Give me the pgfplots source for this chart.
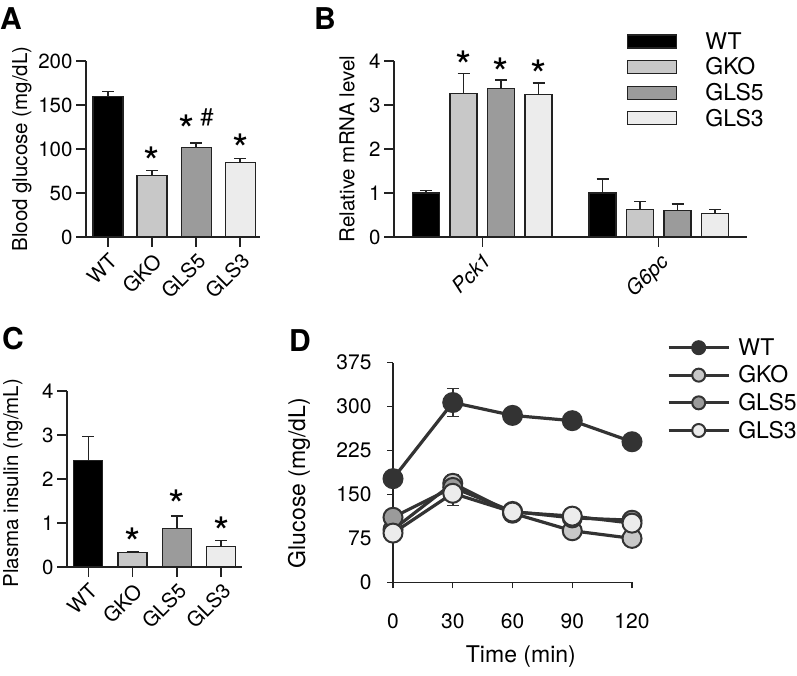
\documentclass[border=0pt]{standalone}
\usepackage{pgfplots}
\pgfplotsset{compat=1.18}
\usepackage{fontspec}
\setmainfont{TeX Gyre Heros}
\definecolor{axc}{HTML}{222222}
\definecolor{cgko}{HTML}{C8C8C8}
\definecolor{cgls5}{HTML}{9B9B9B}
\definecolor{cgls3}{HTML}{ECECEC}
\definecolor{dwt}{HTML}{333333}
\newcommand\tickf{\fontsize{20.5}{22}\selectfont}
\newcommand\labf{\fontsize{20.5}{22}\selectfont}
\newcommand\legf{\fontsize{23}{24}\selectfont}
\newcommand\starf{\fontsize{42}{42}\selectfont}
\newcommand\panelf{\fontsize{30}{32}\selectfont\bfseries}
\pgfplotsset{
  panel/.style={
    scale only axis,
    axis x line*=bottom, axis y line*=left,
    axis line style={line width=1.4pt, draw=axc},
    tick style={line width=1.4pt, draw=axc},
    tick align=outside,
    major tick length=10pt,
    /pgf/number format/assume math mode=true,
    tick label style={font=\tickf},
    label style={font=\labf},
    clip=false,
  },
  barerr/.style={error bars/y dir=plus, error bars/y explicit,
     error bars/error bar style={line width=1.4pt, draw=axc},
     error bars/error mark options={rotate=90, line width=1.4pt, draw=axc, mark size=6pt}},
  bar/.style={ybar, bar shift=0pt, draw=axc, line width=1.2pt},
  boxleg/.style={legend image code/.code={\draw[##1, line width=1.2pt] (0pt,-6.5pt) rectangle (49pt,6.5pt);}},
  dleg/.style={legend image code/.code={\draw[mark repeat=2,mark phase=2,##1, mark size=6.5pt] plot coordinates {(0pt,0pt) (30pt,0pt) (60pt,0pt)};}},
  derr/.style={error bars/y dir=both, error bars/y explicit,
     error bars/error bar style={line width=1.5pt, draw=dwt},
     error bars/error mark options={rotate=90, line width=1.5pt, draw=dwt, mark size=6pt}},
}
\begin{document}
\begin{tikzpicture}
\path[use as bounding box] (0pt,0pt) rectangle (797pt,675pt);
% ---------------- Panel A
\begin{axis}[panel, at={(86pt,438pt)}, anchor=south west, width=174pt, height=176pt,
  xmin=-0.5, xmax=3.45, ymin=0, ymax=200, ytick={0,50,...,200},
  xtick={0,1,2,3}, xticklabels={WT,GKO,GLS5,GLS3},
  xticklabel style={rotate=45, anchor=north east},
  ylabel={Blood glucose (mg/dL)},
  ylabel style={at={(axis description cs:-0.368,0.5)}, anchor=center},
]
\addplot[bar, bar width=30pt, fill=black, barerr] coordinates {(0,160) +- (0,5)};
\addplot[bar, bar width=30pt, fill=cgko, barerr] coordinates {(1,70) +- (0,5.5)};
\addplot[bar, bar width=30pt, fill=cgls5, barerr] coordinates {(2,102) +- (0,5)};
\addplot[bar, bar width=30pt, fill=cgls3, barerr] coordinates {(3,85) +- (0,4.5)};
\node[font=\starf] at (axis cs:1,85) {*};
\node[font=\starf] at (axis cs:1.78,121) {*};
\node[font=\fontsize{24}{24}\selectfont] at (axis cs:2.25,136) {\#};
\node[font=\starf] at (axis cs:3,100) {*};
\end{axis}
% ---------------- Panel B
\begin{axis}[panel, at={(394pt,438pt)}, anchor=south west, width=353pt, height=176pt,
  ybar=10.5pt, bar width=27pt,
  xmin=-0.5, xmax=1.5, ymin=0, ymax=4, ytick={0,1,2,3,4},
  xtick={0,1}, xticklabels={\textit{Pck1},\textit{G6pc}},
  xticklabel style={rotate=45, anchor=north east},
  ylabel={Relative mRNA level},
  ylabel style={at={(axis description cs:-0.133,0.5)}, anchor=center},
  legend style={at={(axis description cs:0.66,1.175)}, anchor=north west, draw=none, fill=none,
    font=\legf, row sep=3pt, column sep=26pt, inner sep=0pt, cells={anchor=west}},
]
\addplot[fill=black, draw=axc, line width=1.2pt, boxleg, barerr] coordinates {(0,1.0) +- (0,0.05) (1,1.0) +- (0,0.32)};
\addplot[fill=cgko, draw=axc, line width=1.2pt, boxleg, barerr] coordinates {(0,3.27) +- (0,0.45) (1,0.62) +- (0,0.19)};
\addplot[fill=cgls5, draw=axc, line width=1.2pt, boxleg, barerr] coordinates {(0,3.37) +- (0,0.2) (1,0.61) +- (0,0.14)};
\addplot[fill=cgls3, draw=axc, line width=1.2pt, boxleg, barerr] coordinates {(0,3.23) +- (0,0.27) (1,0.53) +- (0,0.1)};
\legend{WT,GKO,GLS5,GLS3}
\node[font=\starf] at (axis cs:-0.106,3.88) {*};
\node[font=\starf] at (axis cs:0.106,3.73) {*};
\node[font=\starf] at (axis cs:0.318,3.68) {*};
\end{axis}
% ---------------- Panel C
\begin{axis}[panel, at={(67pt,108pt)}, anchor=south west, width=175pt, height=176pt,
  xmin=-0.48, xmax=3.47, ymin=0, ymax=4, ytick={0,1,2,3,4},
  xtick={0,1,2,3}, xticklabels={WT,GKO,GLS5,GLS3},
  xticklabel style={rotate=45, anchor=north east},
  ylabel={Plasma insulin (ng/mL)},
  ylabel style={at={(axis description cs:-0.309,0.477)}, anchor=center},
]
\addplot[bar, bar width=29pt, fill=black, barerr] coordinates {(0,2.42) +- (0,0.54)};
\addplot[bar, bar width=29pt, fill=cgko, barerr] coordinates {(1,0.33) +- (0,0.02)};
\addplot[bar, bar width=29pt, fill=cgls5, barerr] coordinates {(2,0.88) +- (0,0.28)};
\addplot[bar, bar width=29pt, fill=cgls3, barerr] coordinates {(3,0.46) +- (0,0.14)};
\node[font=\starf] at (axis cs:1,0.55) {*};
\node[font=\starf] at (axis cs:2,1.4) {*};
\node[font=\starf] at (axis cs:3,0.8) {*};
\end{axis}
% ---------------- Panel D
\begin{axis}[panel, at={(393pt,92.7pt)}, anchor=south west, width=239pt, height=219.6pt,
  xmin=0, xmax=120, ymin=0, ymax=375, xtick={0,30,...,120}, ytick={0,75,...,375},
  major tick length=6pt,
  tick label style={font=\fontsize{21}{22}\selectfont},
  label style={font=\fontsize{23}{24}\selectfont},
  xticklabel style={yshift=-22pt}, yticklabel style={xshift=-12pt},
  xlabel={Time (min)}, ylabel={Glucose (mg/dL)},
  xlabel style={at={(axis description cs:0.535,-0.34)}, anchor=center},
  ylabel style={at={(axis description cs:-0.393,0.452)}, anchor=center},
  every axis plot/.append style={line width=3.2pt, draw=dwt, mark=*, mark size=9.5pt},
  legend style={at={(axis description cs:1.146,1.12)}, anchor=north west, draw=none, fill=none,
    font=\legf, row sep=5pt, column sep=6pt, inner sep=0pt, cells={anchor=west}},
]
\addplot[dleg, mark options={fill=dwt, draw=dwt, line width=2pt}, derr] coordinates {
 (0,177) +- (0,5) (30,307) +- (0,24) (60,285) +- (0,10) (90,276) +- (0,6) (120,240) +- (0,5)};
\addplot[dleg, mark options={fill=cgko, draw=dwt, line width=2pt}, derr] coordinates {
 (0,90) +- (0,6) (30,169) +- (0,15) (60,118) +- (0,8) (90,88) +- (0,5) (120,75) +- (0,5)};
\addplot[dleg, mark options={fill=cgls5, draw=dwt, line width=2pt}, derr] coordinates {
 (0,111) +- (0,6) (30,162) +- (0,12) (60,121) +- (0,10) (90,110) +- (0,6) (120,106) +- (0,6)};
\addplot[dleg, mark options={fill=cgls3, draw=dwt, line width=2pt}, derr] coordinates {
 (0,84) +- (0,6) (30,152) +- (0,21) (60,120) +- (0,9) (90,113) +- (0,6) (120,101) +- (0,6)};
\legend{WT,GKO,GLS5,GLS3}
\end{axis}
% ---------------- Panel letters
\node[anchor=base west, font=\panelf, inner sep=0pt] at (0pt,645pt) {A};
\node[anchor=base west, font=\panelf, inner sep=0pt] at (314pt,645pt) {B};
\node[anchor=base west, font=\panelf, inner sep=0pt] at (2pt,325pt) {C};
\node[anchor=base west, font=\panelf, inner sep=0pt] at (289pt,323pt) {D};
\end{tikzpicture}
\end{document}
